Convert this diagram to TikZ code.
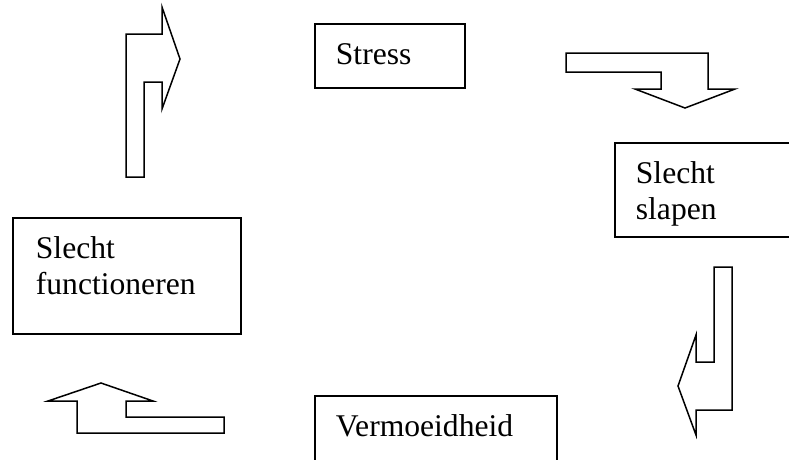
\documentclass[tikz,border=0pt]{standalone}
\usepackage{fontspec}
\setmainfont{Liberation Serif}
\begin{document}
\begin{tikzpicture}[x=1pt, y=-1pt, line width=1.8pt,
    box node/.style={draw, rectangle, inner sep=0pt, anchor=north west},
    word node/.style={inner sep=0pt, anchor=base west, align=left, font=\fontsize{31.6}{36}\selectfont},
    block arrow/.style={draw, line width=1.5pt, line join=miter}]
    \useasboundingbox (0,0) rectangle (789,459);
    \clip (0,0) rectangle (789,459);

    % boxes
    \node[box node, minimum width=150pt, minimum height=64pt] at (314,23) (stress) {};
    \node[box node, minimum width=191pt, minimum height=94pt] at (614,142) (slapen) {};
    \node[box node, minimum width=242pt, minimum height=80pt] at (314,395) (moe) {};
    \node[box node, minimum width=228pt, minimum height=116pt] at (12,217) (functie) {};

    % texts (base anchor = last line)
    \node[word node] at (335,64) (stress text) {Stress};
    \node[word node] at (635,219) (slapen text) {Slecht\\slapen};
    \node[word node] at (335,436) (moe text) {Vermoeidheid};
    \node[word node] at (35,294) (functie text) {Slecht\\functioneren};

    % block arrows
    \draw[block arrow] (566,53) -- (708,53) -- (708,89) -- (735,89) -- (685,108)
        -- (635,89) -- (661,89) -- (661,72) -- (566,72) -- cycle;
    \draw[block arrow] (714,267) -- (732,267) -- (732,410) -- (696,410) -- (696,435)
        -- (678,386) -- (696,335) -- (696,362) -- (714,362) -- cycle;
    \draw[block arrow] (48,401) -- (101,383) -- (153,401) -- (126,401) -- (126,417)
        -- (224,417) -- (224,433) -- (77,433) -- (77,401) -- cycle;
    \draw[block arrow] (126,177) -- (126,34) -- (162,34) -- (162,7) -- (180,59)
        -- (162,109) -- (162,82) -- (144,82) -- (144,177) -- cycle;

\end{tikzpicture}
\end{document}
